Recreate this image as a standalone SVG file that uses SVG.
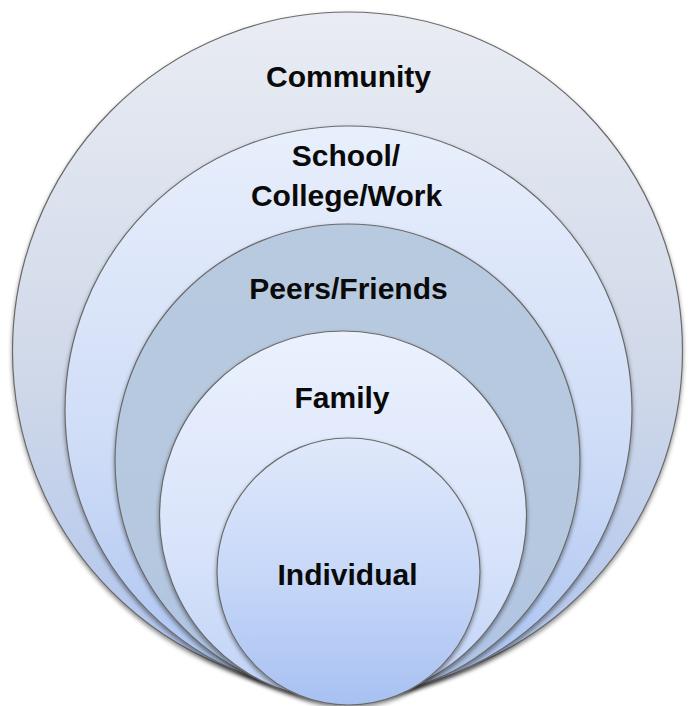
<svg xmlns="http://www.w3.org/2000/svg" width="692" height="706" viewBox="0 0 692 706">
  <defs>
    <linearGradient id="gOuter" x1="0" y1="0" x2="0" y2="1">
      <stop offset="0" stop-color="#e9ecf3"/>
      <stop offset="0.55" stop-color="#cfd8e9"/>
      <stop offset="1" stop-color="#adc3ee"/>
    </linearGradient>
    <linearGradient id="gSchool" x1="0" y1="0" x2="0" y2="1">
      <stop offset="0" stop-color="#e8effc"/>
      <stop offset="0.55" stop-color="#d0ddf7"/>
      <stop offset="1" stop-color="#aac3f1"/>
    </linearGradient>
    <linearGradient id="gPeers" x1="0" y1="0" x2="0" y2="1">
      <stop offset="0" stop-color="#b8cae0"/>
      <stop offset="0.7" stop-color="#b6c8df"/>
      <stop offset="1" stop-color="#adc3e6"/>
    </linearGradient>
    <linearGradient id="gFamily" x1="0" y1="0" x2="0" y2="1">
      <stop offset="0" stop-color="#ebf1fd"/>
      <stop offset="0.6" stop-color="#d8e3fa"/>
      <stop offset="1" stop-color="#bfd2f6"/>
    </linearGradient>
    <linearGradient id="gIndividual" x1="0" y1="0" x2="0" y2="1">
      <stop offset="0" stop-color="#e0e9fb"/>
      <stop offset="0.5" stop-color="#c8d8f8"/>
      <stop offset="1" stop-color="#a8c1f2"/>
    </linearGradient>
    <filter id="shadow" x="-10%" y="-10%" width="120%" height="125%">
      <feDropShadow dx="0" dy="2.5" stdDeviation="2" flood-color="#000" flood-opacity="0.45"/>
    </filter>
  </defs>
  <style>
    .ring { stroke: #6a6a6a; stroke-width: 1.2; filter: url(#shadow); }
    .label { font-family: "Liberation Sans", Arial, sans-serif; font-weight: bold; font-size: 30px; fill: #0a0a0a; text-anchor: middle; }
  </style>
  <rect width="692" height="706" fill="#ffffff"/>

  <g id="community">
    <ellipse class="ring" cx="347.5" cy="351" rx="335" ry="339" fill="url(#gOuter)"/>
    <text class="label" x="348.5" y="87">Community</text>
  </g>

  <g id="school-college-work">
    <ellipse class="ring" cx="348.5" cy="410" rx="283.5" ry="284" fill="url(#gSchool)"/>
    <text class="label" x="346" y="166">School/</text>
    <text class="label" x="346.5" y="206">College/Work</text>
  </g>

  <g id="peers-friends">
    <ellipse class="ring" cx="347.5" cy="460.5" rx="232.5" ry="236.5" fill="url(#gPeers)"/>
    <text class="label" x="348.5" y="299">Peers/Friends</text>
  </g>

  <g id="family">
    <ellipse class="ring" cx="343" cy="515.5" rx="183.5" ry="184.5" fill="url(#gFamily)"/>
    <text class="label" x="342" y="408">Family</text>
  </g>

  <g id="individual">
    <ellipse class="ring" cx="348.5" cy="571.5" rx="131.5" ry="133.5" fill="url(#gIndividual)"/>
    <text class="label" x="347.5" y="585">Individual</text>
  </g>

  <g id="connectors"/>
</svg>
